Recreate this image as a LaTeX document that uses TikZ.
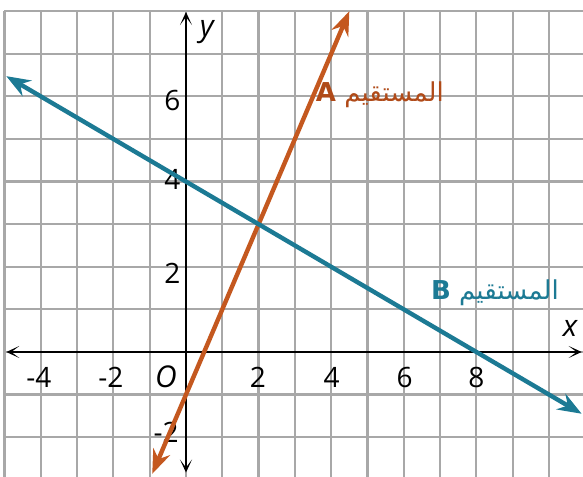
\documentclass[tikz,border=0pt]{standalone}
\usepackage{fontspec}
\setmainfont{Open Sans}
\newfontfamily\arabicfont[Script=Arabic]{DejaVu Sans}
\TeXXeTstate=1
\usetikzlibrary{arrows.meta}
\definecolor{lineA}{HTML}{C4581F}
\definecolor{labA}{HTML}{B04A18}
\definecolor{lineB}{HTML}{1C7A94}
\definecolor{gridc}{HTML}{A8A8A8}
\tikzset{
  gridline/.style={draw=gridc, line width=2.2pt},
  axisline/.style={draw=black, line width=2.6pt, {Stealth[length=13pt,width=12pt,inset=8pt]}-{Stealth[length=13pt,width=12pt,inset=8pt]}},
  graphline/.style={line width=4.4pt, {Stealth[length=24pt,width=18pt,inset=8pt]}-{Stealth[length=24pt,width=18pt,inset=8pt]}},
  ticklab/.style={font=\fontsize{28}{28}\selectfont, inner sep=0pt},
  varlab/.style={font=\fontsize{30}{30}\selectfont\itshape, inner sep=0pt},
  linelab/.style={font=\fontsize{26}{26}\selectfont, inner sep=0pt}
}
\begin{document}
\begin{tikzpicture}[x=36.3pt, y=42.6pt]
\path[use as bounding box, fill=white] (-5.124,-2.934) rectangle (10.937,8.263);
\begin{scope}
\clip (-5.124,-2.934) rectangle (10.937,8.263);
\foreach \i in {-5,...,10} \draw[gridline] (\i,-3) -- (\i,8);
\foreach \j in {-2,...,8} \draw[gridline] (-5,\j) -- (11,\j);
\end{scope}
% tick labels
\node[ticklab, anchor=east] (y6) at (-0.15,5.9) {6};
\node[ticklab, anchor=east] (y4) at (-0.15,4.05) {4};
\node[ticklab, anchor=east] (y2) at (-0.15,1.85) {2};
\node[ticklab, anchor=east] (ym2) at (-0.2,-1.88) {-2};
\node[ticklab] (xm4) at (-4.05,-0.59) {-4};
\node[ticklab] (xm2) at (-2.07,-0.59) {-2};
\node[varlab] (o) at (-0.55,-0.59) {O};
\node[ticklab] (x2) at (1.98,-0.59) {2};
\node[ticklab] (x4) at (4.01,-0.59) {4};
\node[ticklab] (x6) at (6.02,-0.59) {6};
\node[ticklab] (x8) at (8.0,-0.59) {8};
\node[varlab] (xl) at (10.58,0.56) {x};
\node[varlab] (yl) at (0.57,7.5) {y};
% axes
\coordinate (xa) at (-4.95,0);
\coordinate (xb) at (10.9,0);
\coordinate (ya) at (0,-2.83);
\coordinate (yb) at (0,7.98);
\draw[axisline] (xa) -- (xb);
\draw[axisline] (ya) -- (yb);
% lines
\coordinate (a1) at (-0.93,-2.86);
\coordinate (a2) at (4.5,8.0);
\coordinate (b1) at (-4.95,6.475);
\coordinate (b2) at (10.9,-1.45);
\draw[graphline, draw=lineA, fill=lineA] (a1) -- (a2);
\draw[graphline, draw=lineB, fill=lineB] (b1) -- (b2);
% line labels
\node[linelab, text=labA] (la) at (5.34,6.03) {\arabicfont\beginR المستقيم {\bfseries A}\endR};
\node[linelab, text=lineB] (lb) at (8.51,1.38) {\arabicfont\beginR المستقيم {\bfseries B}\endR};
\end{tikzpicture}
\end{document}
